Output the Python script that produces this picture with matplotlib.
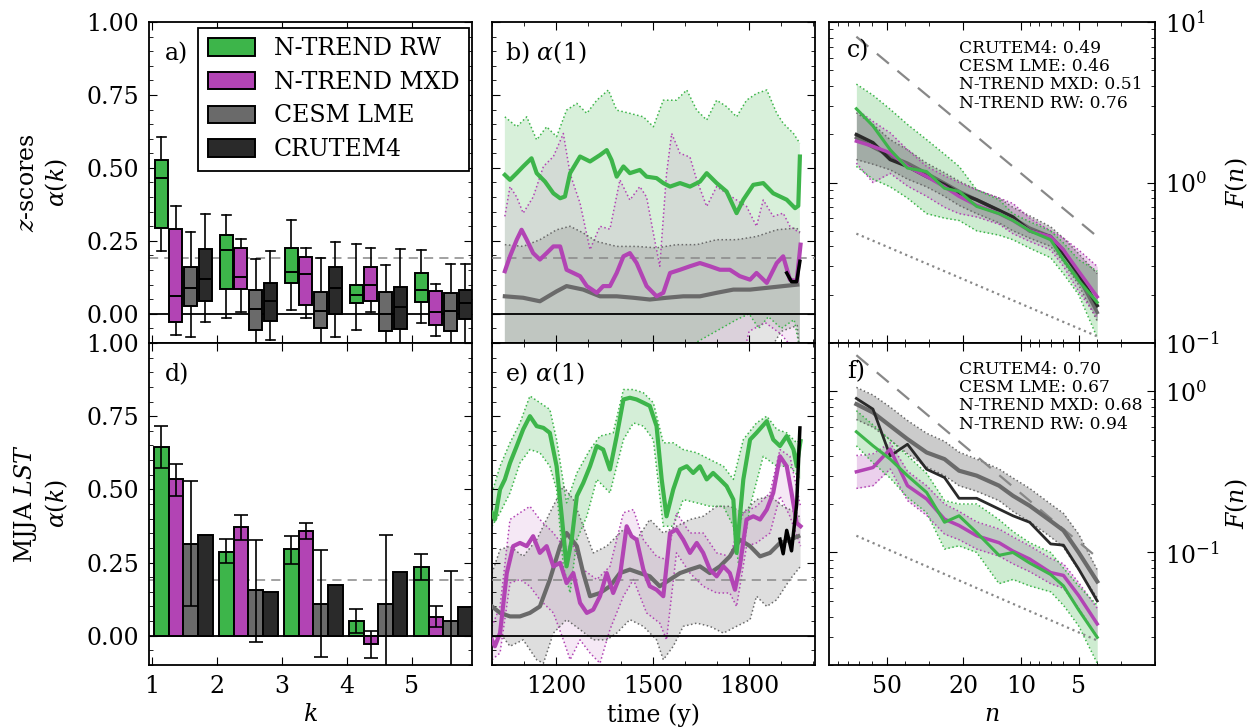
import numpy as np
import matplotlib
matplotlib.use("Agg")
import matplotlib.pyplot as plt
from matplotlib.patches import Patch
from matplotlib.ticker import MultipleLocator, FixedLocator, FixedFormatter, NullFormatter, LogLocator

plt.rcParams['font.family'] = 'serif'
plt.rcParams['font.serif'] = ['DejaVu Serif']
plt.rcParams['mathtext.fontset'] = 'dejavuserif'
plt.rcParams['font.size'] = 17
plt.rcParams['axes.linewidth'] = 1.3
for a in ('xtick', 'ytick'):
    plt.rcParams[a + '.direction'] = 'in'
    plt.rcParams[a + '.major.size'] = 6
    plt.rcParams[a + '.minor.size'] = 3
    plt.rcParams[a + '.major.pad'] = 7
plt.rcParams['xtick.top'] = True
plt.rcParams['ytick.right'] = True

# colours
GREEN = '#3db54a'
MAGENTA = '#b244b4'
GREY = '#6a6a6a'
BLACK = '#2a2a2a'

names = ['N-TREND RW', 'N-TREND MXD', 'CESM LME', 'CRUTEM4']
lags = [1, 2, 3, 4, 5]
sig_level = 0.19

# panel a: boxes (whislo, q1, med, q3, whishi) per lag k
rw_box = [[.215, .295, .466, .528, .606], [-.013, .084, .219, .27, .338], [.014, .107, .144, .227, .321],
          [-.056, .036, .065, .098, .24], [-.032, .039, .082, .141, .219]]
mxd_box = [[-.073, -.027, .062, .289, .369], [.005, .084, .126, .227, .257], [-.013, .03, .136, .196, .227],
           [.005, .044, .099, .161, .227], [-.075, -.039, .005, .079, .101]]
cesm_box = [[-.08, .027, .09, .161, .281], [-.15, -.055, .016, .081, .187], [-.15, -.05, .01, .075, .19],
            [-.15, -.058, .001, .075, .166], [-.15, -.058, .01, .071, .17]]
cru_box = [[-.027, .044, .118, .223, .343], [-.09, -.024, .044, .104, .215], [-.08, -.001, .087, .161, .246],
           [-.15, -.052, .025, .093, .221], [-.15, -.018, .036, .082, .17]]

# panel d: bars with error ranges
rw_bar = [.645, .286, .296, .051, .234]
rw_lo = [.573, .248, .246, .011, .191]
rw_hi = [.716, .331, .34, .093, .279]
mxd_bar = [.536, .37, .359, -.027, .064]
mxd_lo = [.479, .328, .33, -.076, .03]
mxd_hi = [.588, .411, .385, .017, .10]
cesm_bar = [.313, .155, .109, .109, .051]
cesm_lo = [.10, -.02, -.071, -.15, -.15]
cesm_hi = [.53, .326, .292, .345, .222]
cru_bar = [.345, .149, .172, .217, .097]

# panel b: running alpha(1), z-scores (year, value)
b_rw = [(1040, .476), (1056, .459), (1077, .482), (1097, .505), (1123, .533), (1139, .482), (1165, .453),
        (1191, .413), (1212, .396), (1227, .402), (1243, .482), (1274, .539), (1305, .522), (1336, .544),
        (1357, .561), (1372, .527), (1388, .47), (1409, .505), (1429, .482), (1460, .493), (1481, .47),
        (1512, .465), (1533, .448), (1554, .436), (1585, .448), (1616, .436), (1647, .453), (1668, .482),
        (1699, .448), (1730, .419), (1761, .345), (1782, .391), (1813, .442), (1844, .448), (1875, .413),
        (1896, .402), (1917, .391), (1943, .362), (1953, .37), (1958, .539)]
b_mxd = [(1040, .146), (1056, .197), (1077, .254), (1092, .288), (1108, .254), (1128, .208), (1149, .186),
         (1170, .208), (1191, .231), (1212, .231), (1232, .151), (1253, .14), (1274, .129), (1295, .095),
         (1326, .072), (1346, .095), (1367, .095), (1388, .14), (1409, .197), (1429, .208), (1450, .174),
         (1481, .095), (1512, .06), (1533, .072), (1554, .14), (1585, .151), (1616, .163), (1647, .174),
         (1678, .163), (1709, .151), (1740, .151), (1771, .129), (1803, .117), (1823, .14), (1855, .106),
         (1886, .174), (1906, .197), (1927, .117), (1948, .112), (1960, .237)]
b_cesm = [(1040, .06), (1097, .055), (1149, .043), (1201, .077), (1232, .095), (1284, .083), (1336, .06),
          (1388, .06), (1440, .055), (1491, .049), (1543, .055), (1595, .06), (1647, .06), (1699, .072),
          (1751, .083), (1803, .083), (1855, .089), (1906, .095), (1950, .1)]
b_cru = [(1917, .14), (1932, .11), (1948, .11), (1958, .18)]
b_rw_up = [(1040, .675), (1077, .641), (1108, .675), (1139, .596), (1170, .641), (1201, .607), (1232, .698),
           (1264, .721), (1295, .687), (1326, .732), (1362, .767), (1388, .698), (1429, .687), (1471, .675),
           (1502, .641), (1533, .732), (1574, .732), (1606, .767), (1637, .698), (1668, .664), (1699, .732),
           (1730, .71), (1761, .675), (1792, .732), (1823, .755), (1855, .767), (1886, .687), (1906, .653),
           (1938, .618), (1958, .584)]
b_rw_dn = [(1040, -.12), (1300, -.12), (1600, -.12), (1761, -.02), (1800, 0.0), (1830, -.05), (1860, -.01),
           (1900, -.05), (1940, -.02), (1958, -.12)]
b_mxd_up = [(1040, .334), (1056, .436), (1077, .40), (1097, .345), (1128, .40), (1160, .505), (1191, .539),
            (1222, .618), (1243, .48), (1274, .379), (1305, .22), (1336, .30), (1367, .29), (1398, .459),
            (1429, .39), (1460, .436), (1481, .40), (1502, .277), (1522, .163), (1543, .48), (1559, .618),
            (1585, .55), (1616, .537), (1637, .459), (1668, .368), (1699, .436), (1730, .413), (1761, .39),
            (1792, .368), (1823, .30), (1844, .39), (1875, .334), (1906, .345), (1927, .30), (1958, .277)]
b_mxd_dn = [(1040, -.15), (1780, -.15), (1800, -.06), (1850, -.03), (1900, -.07), (1958, -.15)]
b_cesm_up = [(1040, .237), (1097, .231), (1149, .254), (1201, .288), (1243, .3), (1284, .277), (1326, .248),
             (1388, .231), (1450, .231), (1512, .226), (1574, .237), (1637, .237), (1699, .254), (1761, .254),
             (1823, .265), (1886, .288), (1948, .294), (1958, .28)]
b_cesm_dn = [(1040, -.15), (1850, -.15), (1900, -.06), (1950, -.04), (1958, -.15)]

# panel e: running alpha(1), MJJA LST
e_rw = [(1000, .42), (1009, .397), (1025, .50), (1040, .534), (1056, .59), (1077, .648), (1097, .705),
        (1118, .75), (1139, .716), (1160, .71), (1180, .693), (1201, .579), (1217, .408), (1232, .237),
        (1248, .328), (1264, .477), (1284, .522), (1305, .579), (1326, .648), (1346, .636), (1367, .568),
        (1388, .682), (1409, .807), (1429, .813), (1450, .807), (1471, .796), (1491, .785), (1512, .716),
        (1528, .534), (1543, .408), (1564, .50), (1585, .568), (1606, .579), (1626, .556), (1647, .579),
        (1668, .534), (1688, .556), (1709, .534), (1730, .511), (1751, .465), (1761, .283), (1782, .534),
        (1803, .67), (1823, .693), (1855, .733), (1875, .67), (1896, .648), (1917, .682), (1938, .636),
        (1948, .579), (1960, .665)]
e_mxd = [(1000, -.014), (1009, -.036), (1025, .009), (1046, .214), (1066, .306), (1087, .317), (1108, .306),
         (1128, .34), (1149, .283), (1170, .306), (1191, .237), (1212, .249), (1232, .18), (1253, .214),
         (1274, .112), (1295, .078), (1315, .089), (1336, .135), (1357, .214), (1377, .146), (1398, .203),
         (1419, .374), (1434, .34), (1450, .328), (1471, .226), (1491, .169), (1512, .157), (1533, .135),
         (1554, .351), (1574, .363), (1595, .328), (1616, .283), (1637, .317), (1657, .283), (1678, .226),
         (1699, .203), (1720, .237), (1740, .214), (1756, .157), (1771, .237), (1792, .397), (1813, .408),
         (1834, .397), (1855, .431), (1875, .488), (1896, .613), (1917, .579), (1932, .488), (1948, .385),
         (1960, .374)]
e_cesm = [(1000, .10), (1025, .078), (1056, .066), (1087, .066), (1118, .078), (1149, .10), (1180, .192),
          (1212, .306), (1232, .351), (1264, .306), (1284, .214), (1305, .135), (1336, .146), (1367, .169),
          (1398, .214), (1429, .226), (1460, .214), (1491, .203), (1522, .169), (1554, .192), (1585, .214),
          (1616, .226), (1647, .237), (1678, .214), (1709, .237), (1740, .271), (1771, .328), (1803, .306),
          (1834, .271), (1865, .283), (1896, .317), (1927, .328), (1953, .34)]
e_cru = [(1896, .33), (1906, .28), (1917, .36), (1932, .29), (1948, .45), (1958, .71)]
e_rw_up = [(1000, .488), (1025, .579), (1056, .659), (1087, .727), (1118, .819), (1149, .796), (1180, .773),
           (1201, .67), (1232, .454), (1264, .556), (1305, .636), (1336, .682), (1377, .693), (1409, .841),
           (1440, .841), (1471, .83), (1502, .796), (1533, .659), (1564, .659), (1595, .636), (1637, .625),
           (1678, .602), (1720, .579), (1751, .534), (1782, .67), (1823, .727), (1855, .75), (1886, .705),
           (1917, .693), (1948, .659), (1960, .67)]
e_rw_dn = [(1000, .374), (1025, .42), (1056, .488), (1087, .59), (1118, .636), (1149, .625), (1180, .579),
           (1201, .50), (1222, .237), (1243, .146), (1264, .328), (1295, .408), (1326, .534), (1367, .488),
           (1409, .67), (1440, .727), (1471, .716), (1502, .67), (1533, .374), (1564, .374), (1595, .465),
           (1637, .454), (1678, .442), (1720, .442), (1751, .374), (1771, .214), (1803, .442), (1844, .613),
           (1886, .579), (1927, .579), (1960, .534)]
e_mxd_up = [(1000, .032), (1025, .10), (1056, .397), (1087, .42), (1118, .442), (1149, .397), (1191, .351),
            (1222, .306), (1253, .306), (1284, .226), (1326, .192), (1367, .237), (1409, .42), (1440, .431),
            (1471, .328), (1512, .271), (1543, .26), (1574, .42), (1616, .351), (1657, .351), (1699, .283),
            (1740, .271), (1782, .42), (1823, .442), (1865, .488), (1896, .636), (1927, .613), (1960, .442)]
e_mxd_dn = [(1000, -.082), (1025, -.059), (1056, .18), (1087, .192), (1118, .169), (1149, .123), (1191, .078),
            (1222, -.014), (1243, -.082), (1274, -.014), (1305, -.059), (1336, -.094), (1367, .021), (1409, .135),
            (1440, .192), (1481, .078), (1522, .043), (1543, -.014), (1574, .283), (1616, .214), (1657, .169),
            (1699, .146), (1740, .146), (1761, .10), (1792, .306), (1823, .317), (1865, .351), (1896, .477),
            (1927, .408), (1960, .306)]
e_cesm_up = [(1000, .214), (1025, .294), (1056, .306), (1097, .271), (1139, .328), (1180, .42), (1222, .511),
             (1253, .465), (1284, .374), (1315, .283), (1357, .306), (1409, .363), (1450, .328), (1491, .397),
             (1533, .351), (1574, .374), (1616, .397), (1657, .408), (1699, .442), (1740, .442), (1782, .42),
             (1823, .465), (1865, .477), (1906, .442), (1948, .42), (1960, .40)]
e_cesm_dn = [(1000, -.014), (1025, .009), (1056, -.036), (1097, -.014), (1139, -.082), (1160, -.094),
             (1191, .009), (1232, .055), (1274, .021), (1315, -.014), (1357, -.014), (1388, .009), (1429, .055),
             (1471, .032), (1512, -.014), (1533, -.082), (1564, -.036), (1595, .032), (1637, .043), (1678, .032),
             (1720, .009), (1761, .032), (1803, .055), (1823, .135), (1855, .10), (1886, .123), (1927, .192),
             (1960, .237)]

# panels c, f: fluctuation functions F(n)
n_win = [72, 59, 48, 39, 31, 25, 21, 17, 13, 11, 9, 7, 6, 5, 4]
c_rw = [2.88, 2.25, 1.60, 1.23, 1.17, 0.92, 0.88, 0.71, 0.64, 0.58, 0.50, 0.44, 0.33, 0.245, 0.179]
c_rw_hi = [4.1, 3.5, 2.86, 2.3, 1.85, 1.5, 1.26, 0.9, 0.78, 0.64, 0.57, 0.5, 0.42, 0.33, 0.28]
c_rw_lo = [1.26, 1.05, 0.94, 0.8, 0.64, 0.6, 0.58, 0.5, 0.47, 0.44, 0.39, 0.34, 0.27, 0.2, 0.108]
c_mxd = [1.81, 1.68, 1.53, 1.26, 1.09, 0.94, 0.82, 0.72, 0.64, 0.58, 0.50, 0.46, 0.38, 0.28, 0.194]
c_mxd_hi = [2.86, 2.4, 2.04, 1.6, 1.26, 1.1, 1.0, 0.9, 0.8, 0.74, 0.6, 0.5, 0.45, 0.38, 0.3]
c_mxd_lo = [1.32, 1.0, 1.14, 0.95, 0.82, 0.7, 0.64, 0.61, 0.55, 0.48, 0.43, 0.38, 0.3, 0.21, 0.144]
c_cesm = [1.90, 1.66, 1.46, 1.32, 1.14, 0.99, 0.88, 0.78, 0.67, 0.60, 0.52, 0.46, 0.38, 0.257, 0.155]
c_cesm_hi = [2.72, 2.3, 1.85, 1.6, 1.32, 1.15, 1.02, 0.9, 0.8, 0.7, 0.62, 0.53, 0.45, 0.36, 0.27]
c_cesm_lo = [1.39, 1.3, 1.2, 1.05, 0.94, 0.82, 0.72, 0.64, 0.56, 0.5, 0.45, 0.4, 0.32, 0.23, 0.137]
c_cru = [1.99, 1.77, 1.39, 1.26, 1.09, 0.97, 0.86, 0.78, 0.67, 0.61, 0.50, 0.46, 0.36, 0.27, 0.171]

f_rw = [0.562, 0.46, 0.38, 0.30, 0.236, 0.154, 0.169, 0.133, 0.096, 0.10, 0.086, 0.073, 0.062, 0.044, 0.0297]
f_rw_hi = [0.76, 0.62, 0.5, 0.4, 0.31, 0.21, 0.2, 0.2, 0.16, 0.135, 0.115, 0.1, 0.08, 0.062, 0.047]
f_rw_lo = [0.46, 0.36, 0.29, 0.22, 0.177, 0.105, 0.11, 0.1, 0.064, 0.068, 0.062, 0.057, 0.047, 0.035, 0.0205]
f_mxd = [0.317, 0.337, 0.438, 0.26, 0.215, 0.161, 0.147, 0.127, 0.115, 0.102, 0.091, 0.075, 0.072, 0.054, 0.036]
f_mxd_hi = [0.4, 0.41, 0.48, 0.32, 0.26, 0.2, 0.18, 0.155, 0.14, 0.125, 0.11, 0.092, 0.085, 0.065, 0.045]
f_mxd_lo = [0.25, 0.26, 0.33, 0.21, 0.17, 0.13, 0.12, 0.105, 0.095, 0.085, 0.076, 0.064, 0.06, 0.045, 0.03]
f_cesm = [0.834, 0.74, 0.612, 0.506, 0.418, 0.38, 0.322, 0.30, 0.26, 0.225, 0.195, 0.157, 0.137, 0.10, 0.066]
f_cesm_hi = [1.06, 0.95, 0.8, 0.66, 0.55, 0.49, 0.42, 0.38, 0.33, 0.29, 0.25, 0.2, 0.175, 0.13, 0.078]
f_cesm_lo = [0.67, 0.6, 0.5, 0.41, 0.34, 0.3, 0.26, 0.24, 0.21, 0.18, 0.155, 0.125, 0.108, 0.078, 0.052]
f_cru = [0.905, 0.777, 0.398, 0.47, 0.329, 0.292, 0.217, 0.217, 0.186, 0.169, 0.154, 0.113, 0.111, 0.079, 0.05]

ref_n = [72, 4]
c_ref_dash = [8.1, 0.46]
c_ref_dot = [0.48, 0.11]
f_ref_dash = [1.68, 0.093]
f_ref_dot = [0.127, 0.0284]

stat_names = ['CRUTEM4', 'CESM LME', 'N-TREND MXD', 'N-TREND RW']
c_hurst = [0.49, 0.46, 0.51, 0.76]
f_hurst = [0.70, 0.67, 0.68, 0.94]


def xy(pairs):
    x, y = zip(*pairs)
    return list(x), list(y)


def band(ax, up, dn, color, alpha):
    xu, yu = xy(up)
    xd, yd = xy(dn)
    ax.fill(xu + xd[::-1], yu + yd[::-1], color=color, alpha=alpha, lw=0, zorder=1)
    ax.plot(xu, yu, ':', color=color, lw=1.1, zorder=2)
    ax.plot(xd, yd, ':', color=color, lw=1.1, zorder=2)


fig = plt.figure(figsize=(12.56, 7.28), dpi=100)
W, H = 1256., 728.
cols = [(149, 323), (492, 323), (829, 326)]
rows = [(22, 321), (343, 322)]
axs = {}
for r, (top, h) in enumerate(rows):
    for c, (left, w) in enumerate(cols):
        axs[(r, c)] = fig.add_axes([left / W, 1 - (top + h) / H, w / W, h / H])
ax_a, ax_b, ax_c = axs[(0, 0)], axs[(0, 1)], axs[(0, 2)]
ax_d, ax_e, ax_f = axs[(1, 0)], axs[(1, 1)], axs[(1, 2)]

colors = [GREEN, MAGENTA, GREY, BLACK]
offsets = [0.15, 0.375, 0.6, 0.825]
width = 0.225

# ---- panel a
for i, boxes in enumerate([rw_box, mxd_box, cesm_box, cru_box]):
    stats = [dict(whislo=b[0], q1=b[1], med=b[2], q3=b[3], whishi=b[4], fliers=[]) for b in boxes]
    pos = [k + offsets[i] for k in lags]
    ax_a.bxp(stats, positions=pos, widths=0.2, capwidths=0.14, patch_artist=True, manage_ticks=False,
             boxprops=dict(facecolor=colors[i], edgecolor='k', lw=1.4),
             medianprops=dict(color='k', lw=1.4), whiskerprops=dict(color='k', lw=1.2),
             capprops=dict(color='k', lw=1.2), zorder=3)
handles = [Patch(facecolor=c, edgecolor='k', lw=1.4) for c in colors]
leg = ax_a.legend(handles, names, loc='upper right', bbox_to_anchor=(0.99, 0.982), borderaxespad=0,
                  fancybox=False, edgecolor='k', framealpha=1, handlelength=2.0, handleheight=0.75,
                  labelspacing=0.45, borderpad=0.4, handletextpad=0.8, fontsize=17)
leg.get_frame().set_linewidth(1.3)

# ---- panel d
for i, (vals, lo, hi) in enumerate([(rw_bar, rw_lo, rw_hi), (mxd_bar, mxd_lo, mxd_hi),
                                    (cesm_bar, cesm_lo, cesm_hi), (cru_bar, None, None)]):
    pos = [k + offsets[i] for k in lags]
    ax_d.bar(pos, vals, width=width, color=colors[i], edgecolor='k', lw=1.4, zorder=3)
    if lo is not None:
        err = [np.array(vals) - np.array(lo), np.array(hi) - np.array(vals)]
        ax_d.errorbar(pos, vals, yerr=err, fmt='none', ecolor='k', elinewidth=1.2, capsize=5, capthick=1.2,
                      zorder=4)

for ax in (ax_a, ax_d):
    ax.set_xlim(0.96, 5.93)
    ax.set_ylim(-0.1, 1.0)
    ax.xaxis.set_major_locator(FixedLocator(lags))
    ax.yaxis.set_major_locator(MultipleLocator(0.25))
    ax.yaxis.set_minor_locator(MultipleLocator(0.05))
    ax.yaxis.set_major_formatter(plt.FormatStrFormatter('%.2f'))
    ax.axhline(0, color='k', lw=1.3, zorder=2)
    ax.axhline(sig_level, color='#888888', ls='--', dashes=(6, 4), lw=1.1, zorder=0.5)
ax_a.set_xticklabels([])
ax_d.set_xlabel('$k$')
ax_a.set_ylabel('$z$-scores\n$\\alpha(k)$', linespacing=1.2)
ax_d.set_ylabel('MJJA $LST$\n$\\alpha(k)$', linespacing=1.2)
ax_a.yaxis.set_label_coords(-0.245, 0.5)
ax_d.yaxis.set_label_coords(-0.245, 0.5)
ax_a.text(0.05, 0.90, 'a)', transform=ax_a.transAxes, va='center')
ax_d.text(0.05, 0.90, 'd)', transform=ax_d.transAxes, va='center')

# ---- panels b, e
for ax, sets, cru, lab in [
        (ax_b, [(b_rw, b_rw_up, b_rw_dn, GREEN, 0.2), (b_mxd, b_mxd_up, b_mxd_dn, MAGENTA, 0.12),
                (b_cesm, b_cesm_up, b_cesm_dn, GREY, 0.18)], b_cru, 'b) $\\alpha(1)$'),
        (ax_e, [(e_rw, e_rw_up, e_rw_dn, GREEN, 0.22), (e_mxd, e_mxd_up, e_mxd_dn, MAGENTA, 0.12),
                (e_cesm, e_cesm_up, e_cesm_dn, GREY, 0.22)], e_cru, 'e) $\\alpha(1)$')]:
    for mean, up, dn, col, al in sets:
        band(ax, up, dn, col, al)
    for mean, up, dn, col, al in sets[::-1]:
        x, y = xy(mean)
        ax.plot(x, y, color=col, lw=3, zorder=4)
    x, y = xy(cru)
    ax.plot(x, y, color='k', lw=2.5, zorder=5)
    ax.set_xlim(1000, 2005)
    ax.set_ylim(-0.1, 1.0)
    ax.xaxis.set_major_locator(FixedLocator([1200, 1500, 1800]))
    ax.xaxis.set_minor_locator(MultipleLocator(100))
    ax.yaxis.set_major_locator(MultipleLocator(0.25))
    ax.yaxis.set_minor_locator(MultipleLocator(0.05))
    ax.set_yticklabels([])
    ax.axhline(0, color='k', lw=1.3, zorder=6)
    ax.axhline(sig_level, color='#888888', ls='--', dashes=(6, 4), lw=1.1, zorder=3)
    ax.text(0.04, 0.905, lab, transform=ax.transAxes, va='center', zorder=7)
ax_b.set_xticklabels([])
ax_e.set_xlabel('time (y)')

# ---- panels c, f
for ax, d, ylim, hurst, lab in [
        (ax_c, dict(rw=(c_rw, c_rw_lo, c_rw_hi), mxd=(c_mxd, c_mxd_lo, c_mxd_hi),
                    cesm=(c_cesm, c_cesm_lo, c_cesm_hi), cru=c_cru, dash=c_ref_dash, dot=c_ref_dot),
         (0.1, 10), c_hurst, 'c)'),
        (ax_f, dict(rw=(f_rw, f_rw_lo, f_rw_hi), mxd=(f_mxd, f_mxd_lo, f_mxd_hi),
                    cesm=(f_cesm, f_cesm_lo, f_cesm_hi), cru=f_cru, dash=f_ref_dash, dot=f_ref_dot),
         (0.02, 2.0), f_hurst, 'f)')]:
    ax.set_xscale('log')
    ax.set_yscale('log')
    for key, col, al in [('cesm', GREY, 0.35), ('mxd', MAGENTA, 0.25), ('rw', GREEN, 0.25)]:
        m, lo, hi = d[key]
        ax.fill_between(n_win, lo, hi, color=col, alpha=al, lw=0, zorder=1)
        ax.plot(n_win, lo, ':', color=col, lw=1.1, zorder=2)
        ax.plot(n_win, hi, ':', color=col, lw=1.1, zorder=2)
    ax.plot(ref_n, d['dash'], '--', color='#888888', lw=1.6, dashes=(7, 5), zorder=2)
    ax.plot(ref_n, d['dot'], ':', color='#888888', lw=1.6, zorder=2)
    ax.plot(n_win, d['cesm'][0], color=GREY, lw=3 if ax is ax_f else 2.5, zorder=3)
    ax.plot(n_win, d['cru'], color=BLACK, lw=2 if ax is ax_f else 2.5, zorder=4)
    ax.plot(n_win, d['mxd'][0], color=MAGENTA, lw=2.5, zorder=5)
    ax.plot(n_win, d['rw'][0], color=GREEN, lw=2.2, zorder=6)
    ax.set_xlim(100, 2)
    ax.set_ylim(*ylim)
    ax.xaxis.set_major_locator(FixedLocator([50, 20, 10, 5]))
    ax.xaxis.set_major_formatter(FixedFormatter(['50', '20', '10', '5']))
    ax.xaxis.set_minor_locator(LogLocator(subs=np.arange(2, 10)))
    ax.xaxis.set_minor_formatter(NullFormatter())
    ax.yaxis.set_minor_locator(LogLocator(subs=np.arange(2, 10)))
    ax.yaxis.set_minor_formatter(NullFormatter())
    ax.yaxis.tick_right()
    ax.yaxis.set_ticks_position('both')
    ax.yaxis.set_label_position('right')
    ax.set_ylabel('$F(n)$')
    ax.yaxis.set_label_coords(1.21, 0.5)
    ax.text(0.055, 0.91, lab, transform=ax.transAxes, va='center', zorder=7)
    txt = '\n'.join('%s: %.2f' % (nm, v) for nm, v in zip(stat_names, hurst))
    ax.text(0.40, 0.945, txt, transform=ax.transAxes, va='top', ha='left', fontsize=12.3,
            linespacing=1.1, zorder=7)
ax_c.set_xticklabels([])
ax_f.set_xlabel('$n$')

fig.savefig('out.png', dpi=100)
